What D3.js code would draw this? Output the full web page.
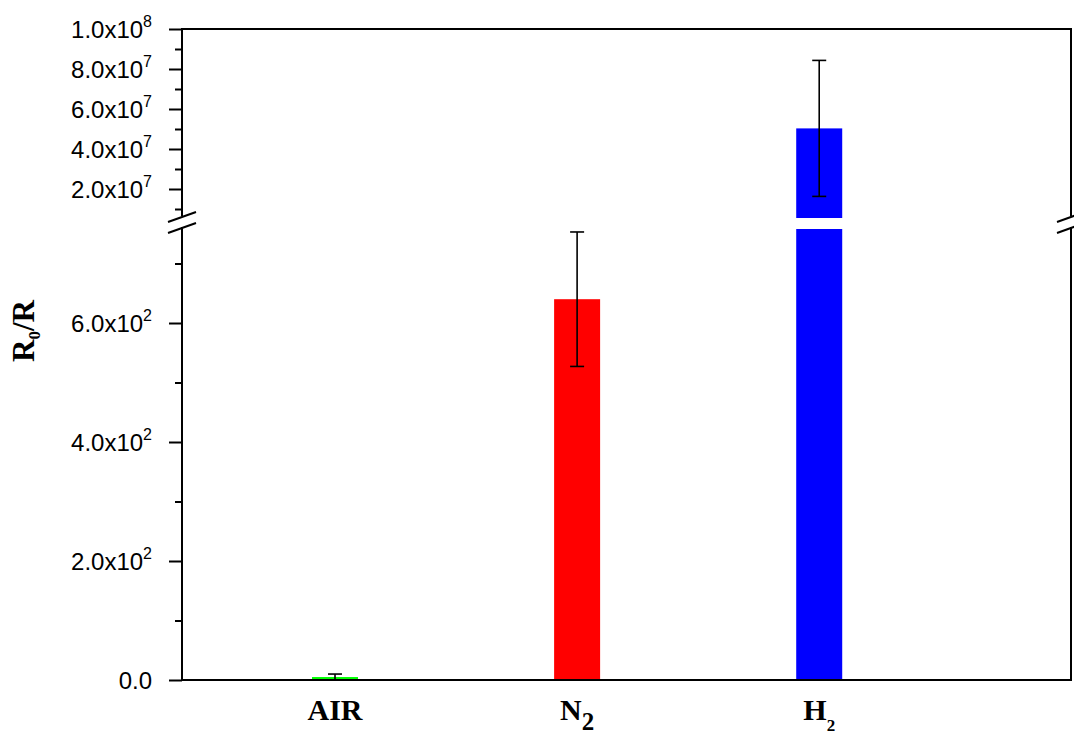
<!DOCTYPE html>
<html>
<head>
<meta charset="utf-8">
<script src="https://cdn.jsdelivr.net/npm/d3@7"></script>
<style>
  body { margin: 0; background: #fff; }
  svg { display: block; }
</style>
</head>
<body>
<svg id="chart" width="1074" height="734"></svg>
<script>
// gases and their R0/R response
let labelMain = ["AIR", "N", "H"];
let labelSub = ["", "2", "2"];
let values = [5, 640, 5.03e7];
let errors = [5, 113, 3.4e7];
let barColors = ["#00ff00", "#ff0000", "#0000ff"];

// broken y axis: lower part and upper part
let lowerMajor = [0, 200, 400, 600];
let lowerMinor = [100, 300, 500, 700];
let upperMajor = [2e7, 4e7, 6e7, 8e7, 1e8];
let upperMinor = [1e7, 3e7, 5e7, 7e7, 9e7];
let lowerMax = 758;
let upperMin = 5.5e6;

const svg = d3.select("svg#chart");
const plotL = 182, plotR = 1071, plotT = 29, plotB = 680;
const lowTop = 229, upBottom = 218;

const x = d3.scaleLinear().domain([0.368, 4.04]).range([plotL, plotR]);
const yLow = d3.scaleLinear().domain([0, lowerMax]).range([plotB, lowTop]);
const yUp = d3.scaleLinear().domain([upperMin, 1e8]).range([upBottom, plotT]);
const halfW = 0.095;

// bars
values.forEach(function (v, i) {
  let cx = i + 1;
  let x0 = x(cx - halfW), w = x(cx + halfW) - x0;
  let lowV = Math.min(v, lowerMax);
  svg.append("rect")
    .attr("x", x0).attr("y", yLow(lowV))
    .attr("width", w).attr("height", yLow(0) - yLow(lowV))
    .attr("fill", barColors[i]);
  if (v > lowerMax) {
    svg.append("rect")
      .attr("x", x0).attr("y", yUp(v))
      .attr("width", w).attr("height", yUp(upperMin) - yUp(v))
      .attr("fill", barColors[i]);
  }
});

// error bars
values.forEach(function (v, i) {
  let y = v > lowerMax ? yUp : yLow;
  let cx = x(i + 1);
  let hi = y(v + errors[i]), lo = y(Math.max(v - errors[i], 0));
  let g = svg.append("g").attr("stroke", "#000").attr("stroke-width", 1.6);
  g.append("line").attr("x1", cx).attr("x2", cx).attr("y1", hi).attr("y2", lo);
  g.append("line").attr("x1", cx - 7).attr("x2", cx + 7).attr("y1", hi).attr("y2", hi);
  g.append("line").attr("x1", cx - 7).attr("x2", cx + 7).attr("y1", lo).attr("y2", lo);
});

function fmt(v) {
  if (v === 0) return ["0.0", ""];
  let e = Math.floor(Math.log10(v) + 1e-9);
  return [(v / Math.pow(10, e)).toFixed(1) + "x10", String(e)];
}

function drawAxis(scale, major, minor) {
  let gMaj = svg.append("g").attr("transform", "translate(" + plotL + ",0)")
    .call(d3.axisLeft(scale).tickValues(major).tickSizeInner(13).tickSizeOuter(0).tickPadding(17));
  svg.append("g").attr("transform", "translate(" + plotL + ",0)")
    .call(d3.axisLeft(scale).tickValues(minor).tickSizeInner(7).tickSizeOuter(0).tickFormat(""));
  svg.selectAll(".domain").remove();
  svg.selectAll(".tick line").attr("stroke", "#000").attr("stroke-width", 2);
  gMaj.selectAll(".tick text").each(function (d) {
    let t = d3.select(this);
    let parts = fmt(d);
    t.text(null)
      .attr("font-family", "'Liberation Sans', Arial, sans-serif")
      .attr("font-size", 24).attr("fill", "#000").attr("dy", "0.36em");
    t.append("tspan").text(parts[0]);
    if (parts[1]) t.append("tspan").attr("font-size", 16).attr("dy", -11).text(parts[1]);
  });
}
drawAxis(yLow, lowerMajor, lowerMinor);
drawAxis(yUp, upperMajor, upperMinor);

// frame with breaks
const frame = svg.append("g").attr("stroke", "#000").attr("stroke-width", 2).attr("fill", "none");
[plotL, plotR].forEach(function (ax) {
  frame.append("line").attr("x1", ax).attr("x2", ax).attr("y1", plotT - 1).attr("y2", 216);
  frame.append("line").attr("x1", ax).attr("x2", ax).attr("y1", 227).attr("y2", plotB + 1);
  frame.append("line").attr("x1", ax - 14).attr("x2", ax + 14).attr("y1", 222).attr("y2", 212);
  frame.append("line").attr("x1", ax - 14).attr("x2", ax + 14).attr("y1", 233).attr("y2", 223);
});
frame.append("line").attr("x1", plotL).attr("x2", plotR).attr("y1", plotT).attr("y2", plotT);
frame.append("line").attr("x1", plotL).attr("x2", plotR).attr("y1", plotB).attr("y2", plotB);

// x category labels
labelMain.forEach(function (lab, i) {
  let t = svg.append("text")
    .attr("x", x(i + 1)).attr("y", 720)
    .attr("text-anchor", "middle")
    .attr("font-family", "'Liberation Serif', 'Times New Roman', serif")
    .attr("font-weight", "bold").attr("font-size", 30).attr("fill", "#000");
  t.append("tspan").text(lab);
  if (labelSub[i]) {
    let big = i === 1;
    t.append("tspan").attr("font-size", big ? 25 : 17).attr("dy", big ? 10 : 11).text(labelSub[i]);
  }
});

// y title
const yt = svg.append("text")
  .attr("transform", "translate(34,331) rotate(-90)")
  .attr("text-anchor", "middle")
  .attr("font-family", "'Liberation Serif', 'Times New Roman', serif")
  .attr("font-weight", "bold").attr("font-size", 31).attr("fill", "#000");
yt.append("tspan").text("R");
yt.append("tspan").attr("font-size", 17).attr("dy", 6).text("0");
yt.append("tspan").attr("dy", -6).text("/R");
</script>
</body>
</html>
